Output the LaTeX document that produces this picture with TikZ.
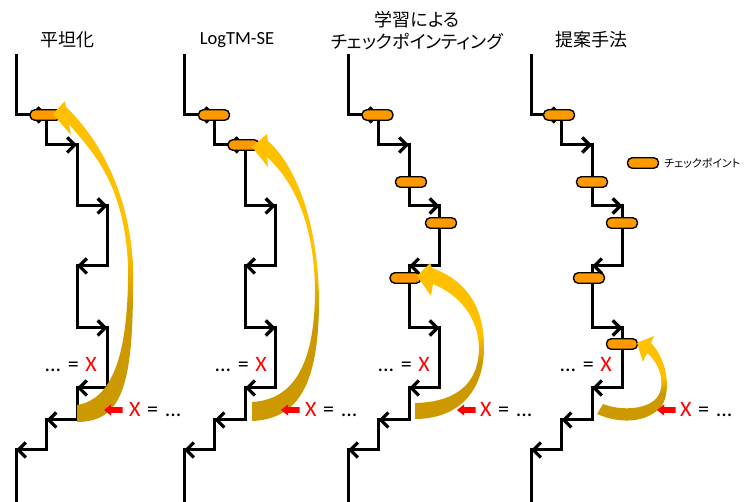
\documentclass[tikz,border=0pt]{standalone}
\usepackage{fontspec}
\setmainfont{Carlito}
\newfontfamily\jp{Noto Sans CJK JP}
\newfontfamily\jpp[RawFeature=+palt]{Noto Sans CJK JP}
\usetikzlibrary{arrows.meta}
\definecolor{arryellow}{RGB}{255,192,0}
\definecolor{arrgold}{RGB}{204,153,0}
\definecolor{pillorange}{RGB}{255,153,0}
\pgfdeclareverticalshading{goldshade}{100bp}{color(0bp)=(arrgold); color(43bp)=(arrgold); color(52bp)=(arryellow); color(100bp)=(arryellow)}
\tikzset{
  stair/.style={line width=3pt, line join=miter},
  arr/.style={stair, -{Straight Barb[length=7.5pt,width=15pt,line width=3.2pt]}},
  pill/.style={draw=black, line width=1.4pt, fill=pillorange, rounded corners=4.8pt,
    minimum width=31pt, minimum height=10.5pt, inner sep=0pt},
  title/.style={font=\jp\fontsize{18}{22}\selectfont, inner sep=0pt},
  eqtext/.style={font=\fontsize{22}{22}\selectfont, inner sep=0pt},
  curvarrow/.style={shading=goldshade},
}
\newcommand\stairpath{%
  \draw[stair] (0,54) -- (0,115) -- (30.5,115) -- (30.5,145) -- (61,145) -- (61,206)
    -- (91.5,206) -- (91.5,266) -- (61,266) -- (61,328) -- (91.5,328) -- (91.5,388)
    -- (61,388) -- (61,420) -- (30.5,420) -- (30.5,450) -- (0,450) -- (0,503);
  \draw[arr] (30.5,115) -- (14,115);
}
\newcommand\commonarrows{%
  \draw[arr] (61,206) -- (91.5,206);
  \draw[arr] (91.5,266) -- (61,266);
  \draw[arr] (61,328) -- (91.5,328);
  \draw[arr] (91.5,388) -- (61,388);
  \draw[arr] (61,420) -- (30.5,420);
  \draw[arr] (30.5,450) -- (0,450);
}
\newcommand\redarrow[1]{\fill[red] (#1) -- ++(7,-5.5) -- ++(0,2.7) -- ++(11.5,0) -- ++(0,5.6) -- ++(-11.5,0) -- ++(0,2.7) -- cycle;}
\newcommand\eqL{...\hspace{0.3em}=\hspace{0.3em}\textcolor{red}{X}}
\newcommand\eqR{\textcolor{red}{X}\hspace{0.3em}=\hspace{0.3em}...}
\begin{document}
\begin{tikzpicture}[x=1pt,y=-1pt]
\useasboundingbox (0,0) rectangle (745,502);

% ---------- titles ----------
\node[title] (t1) at (67,40) {平坦化};
\node[title, font=\fontsize{18.5}{22}\selectfont] (t2) at (237,40) {LogTM-SE};
\node[title, font=\jpp\fontsize{18}{22}\selectfont, align=center] (t3) at (417,31) {学習による\\チェックポインティング};
\node[title] (t4) at (591,40) {提案手法};

% ---------- panel 1 ----------
\begin{scope}[xshift=16pt]
  \stairpath
  \draw[arr] (30.5,145) -- (61,145);
  \commonarrows
  \node[pill] (p1a) at (29.5,115) {};
\end{scope}

% ---------- panel 2 ----------
\begin{scope}[xshift=184pt]
  \stairpath
  \draw[arr] (61,145) -- (44,145);
  \commonarrows
  \node[pill] (p2a) at (30,115) {};
  \node[pill] (p2b) at (59.5,145) {};
\end{scope}

% ---------- panel 3 ----------
\begin{scope}[xshift=348pt]
  \stairpath
  \draw[arr] (30.5,145) -- (61,145);
  \commonarrows
  \node[pill] (p3a) at (29.5,115) {};
  \node[pill] (p3b) at (63,182) {};
  \node[pill] (p3c) at (93,223) {};
  \node[pill] (p3d) at (57.5,278) {};
\end{scope}

% ---------- panel 4 ----------
\begin{scope}[xshift=531pt]
  \stairpath
  \draw[arr] (30.5,145) -- (61,145);
  \commonarrows
  \node[pill] (p4a) at (28,115) {};
  \node[pill] (p4b) at (61,182) {};
  \node[pill] (p4c) at (91,223) {};
  \node[pill] (p4d) at (58,278) {};
  \node[pill] (p4e) at (91,344) {};
\end{scope}

% ---------- legend ----------
\node[pill] (lg) at (643,163) {};
\node[anchor=west, inner sep=0pt, font=\jpp\fontsize{11}{12}\selectfont] (lgt) at (664,163) {チェックポイント};

% ---------- curved arrows ----------
\shade[curvarrow] (77,405) -- (77,422) .. controls (125,422) and (134,380) .. (133,265)
  .. controls (128,175) and (85,125) .. (66,107) -- (65,101) -- (53,114) -- (71,135) -- (69,124)
  .. controls (90,150) and (124,180) .. (128,265) .. controls (129,360) and (110,400) .. (77,405) -- cycle;

\shade[curvarrow] (252,402) -- (252,421) .. controls (298,419) and (319,385) .. (319,300)
  .. controls (318,220) and (295,165) .. (268,141) -- (267,134) -- (252,147) -- (268,167) -- (267,157)
  .. controls (292,180) and (314,220) .. (315,290) .. controls (315,370) and (290,400) .. (252,402) -- cycle;

\shade[curvarrow] (415,403) -- (415,419) .. controls (455,419) and (484,395) .. (484,347)
  .. controls (484,305) and (465,280) .. (432,268) -- (430,263) -- (417,276) -- (431,296) -- (433,284)
  .. controls (460,295) and (478,318) .. (479,347) .. controls (479,385) and (455,402) .. (415,403) -- cycle;

\shade[curvarrow] (603,404) -- (597,414) .. controls (620,424) and (645,423) .. (660,408)
  .. controls (672,395) and (668,360) .. (651,343) -- (654,336) -- (637,343) -- (643,362) -- (647,353)
  .. controls (662,365) and (668,392) .. (652,402) .. controls (640,410) and (618,410) .. (603,404) -- cycle;

% ---------- equations ----------
\node[eqtext, anchor=east] (e1) at (97,365) {\eqL};
\node[eqtext, anchor=east] (e2) at (267,365) {\eqL};
\node[eqtext, anchor=east] (e3) at (430,365) {\eqL};
\node[eqtext, anchor=east] (e4) at (612,365) {\eqL};

\redarrow{104,410}
\node[eqtext, anchor=west] (f1) at (129,410) {\eqR};
\redarrow{281,410}
\node[eqtext, anchor=west] (f2) at (305,410) {\eqR};
\redarrow{457,410}
\node[eqtext, anchor=west] (f3) at (480,410) {\eqR};
\redarrow{657,410}
\node[eqtext, anchor=west] (f4) at (680,410) {\eqR};
\end{tikzpicture}
\end{document}
